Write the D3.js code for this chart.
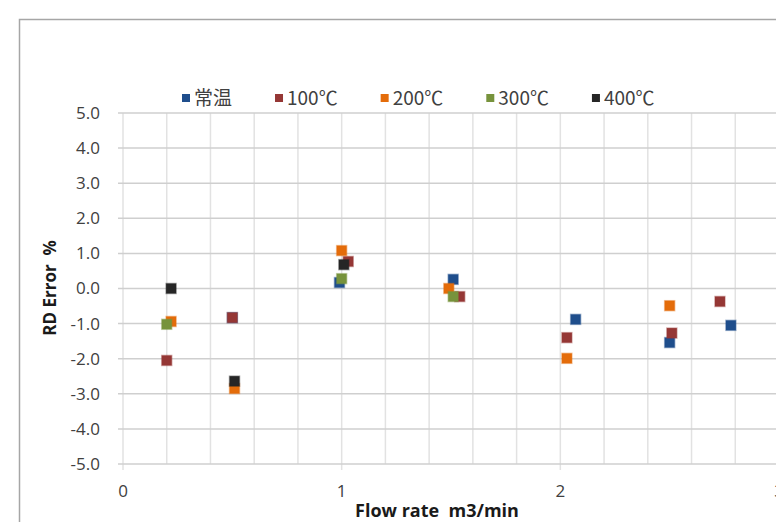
<!DOCTYPE html>
<html>
<head>
<meta charset="utf-8">
<script src="https://cdn.jsdelivr.net/npm/d3@7"></script>
<style>
  body { margin: 0; background: #fff; }
  svg { display: block; font-family: "Open Sans", "Noto Sans CJK JP", sans-serif; }
</style>
</head>
<body>
<svg id="chart" width="776" height="522"></svg>
<script>
// series names and colours
const seriesNames = ["常温", "100℃", "200℃", "300℃", "400℃"];
const seriesColours = ["#1f4e8c", "#953735", "#e46c0a", "#77933c", "#262626"];

// points per series [flow rate, RD error %]
const roomTemp = [[0.50, -0.83], [0.99, 0.17], [1.51, 0.26], [2.07, -0.88], [2.50, -1.54], [2.78, -1.05]];
const temp100 = [[0.20, -2.05], [0.50, -0.83], [1.03, 0.77], [1.54, -0.23], [2.03, -1.40], [2.51, -1.27], [2.73, -0.37]];
const temp200 = [[0.22, -0.94], [0.51, -2.85], [1.00, 1.08], [1.49, 0.00], [2.03, -1.99], [2.50, -0.49]];
const temp300 = [[0.20, -1.02], [1.00, 0.28], [1.51, -0.23]];
const temp400 = [[0.22, 0.00], [0.51, -2.64], [1.01, 0.68]];
const allSeries = [roomTemp, temp100, temp200, temp300, temp400];

// ticks
const yTicks = [5, 4, 3, 2, 1, 0, -1, -2, -3, -4, -5];
const xMajorTicks = [0, 1, 2, 3];
const xMinorTicks = d3.range(0, 16).map(i => i * 0.2);

//dimensions
const svg = d3.select("#chart");
const x = d3.scaleLinear().domain([0, 3]).range([123, 779]);
const y = d3.scaleLinear().domain([-5, 5]).range([464, 113]);

// outer chart frame (runs off the right/bottom edge)
svg.append("rect")
    .attr("x", 19.5).attr("y", 19.5)
    .attr("width", 800).attr("height", 540)
    .attr("fill", "none")
    .attr("stroke", "#a6a6a6")
    .attr("stroke-width", 1.5);

// vertical gridlines
svg.append("g").selectAll("line").data(xMinorTicks)
    .enter().append("line")
        .attr("x1", d => x(d)).attr("x2", d => x(d))
        .attr("y1", y(5))
        .attr("y2", d => Math.abs(d - Math.round(d)) < 1e-6 ? y(-5) + 6 : y(-5))
        .attr("stroke", "#e2e2e2")
        .attr("stroke-width", 1.5);

// horizontal gridlines
svg.append("g").selectAll("line").data(yTicks)
    .enter().append("line")
        .attr("x1", x(0) - 5).attr("x2", 800)
        .attr("y1", d => y(d)).attr("y2", d => y(d))
        .attr("stroke", "#cfcfcf")
        .attr("stroke-width", 1.5);

// y tick labels
svg.append("g").selectAll("text").data(yTicks)
    .enter().append("text")
        .attr("x", 100)
        .attr("y", d => y(d))
        .attr("dy", "0.35em")
        .attr("text-anchor", "end")
        .style("font-size", "17px")
        .attr("fill", "#404040")
        .text(d => d3.format(".1f")(d).replace("−", "-"));

// x tick labels
svg.append("g").selectAll("text").data(xMajorTicks)
    .enter().append("text")
        .attr("x", d => x(d))
        .attr("y", 497)
        .attr("text-anchor", "middle")
        .style("font-size", "17px")
        .attr("fill", "#404040")
        .text(d => d);

// axis titles
svg.append("text")
    .attr("x", 437).attr("y", 517)
    .attr("text-anchor", "middle")
    .style("font-size", "18px")
    .style("font-weight", "bold")
    .attr("fill", "#1a1a1a")
    .attr("xml:space", "preserve")
    .text("Flow rate  m3/min");

svg.append("text")
    .attr("transform", "translate(56,288) rotate(-90)")
    .attr("text-anchor", "middle")
    .style("font-size", "17px")
    .style("font-weight", "bold")
    .attr("fill", "#1a1a1a")
    .attr("xml:space", "preserve")
    .text("RD Error  %");

// markers
const markerSize = 10;
allSeries.forEach((pts, i) => {
    svg.append("g").attr("class", "series-" + i)
        .selectAll("rect").data(pts)
        .enter().append("rect")
            .attr("x", d => x(d[0]) - markerSize / 2)
            .attr("y", d => y(d[1]) - markerSize / 2)
            .attr("width", markerSize)
            .attr("height", markerSize)
            .attr("fill", seriesColours[i])
            .attr("stroke", seriesColours[i])
            .attr("stroke-opacity", 0.4)
            .attr("stroke-width", 1.5);
});

// legend
const legendG = svg.append("g").attr("transform", "translate(182,98)");
let legendX = 0;
seriesNames.forEach((name, i) => {
    const itemG = legendG.append("g").attr("transform", "translate(" + legendX + ",0)");
    itemG.append("rect")
        .attr("x", 0).attr("y", -4)
        .attr("width", 8).attr("height", 8)
        .attr("fill", seriesColours[i]);
    const t = itemG.append("text")
        .attr("x", 12)
        .attr("dy", "0.35em")
        .style("font-size", "19px")
        .style("font-family", "'Noto Sans CJK JP', sans-serif")
        .attr("fill", "#404040")
        .text(name);
    legendX += 12 + t.node().getComputedTextLength() + 43;
});
</script>
</body>
</html>
